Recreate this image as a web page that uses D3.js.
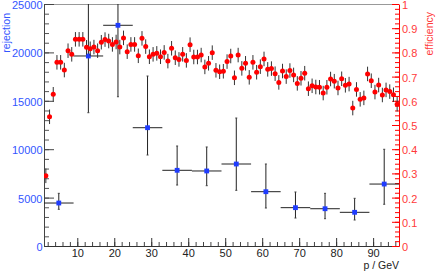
<!DOCTYPE html>
<html>
<head>
<meta charset="utf-8">
<script src="https://cdn.jsdelivr.net/npm/d3@7"></script>
<style>
  body { margin: 0; background: #fff; }
  svg { display: block; font-family: "Liberation Sans", Arial, sans-serif; }
</style>
</head>
<body>
<div id="container"></div>
<script>
/* DATA */
// efficiency, 1 GeV bins from 1 to 97
const effP = d3.range(1.5, 97, 1);
const effValues = [
  0.290, 0.534, 0.627, 0.759, 0.759, 0.727, 0.807, 0.792, 0.854, 0.854,
  0.854, 0.821, 0.815, 0.822, 0.807, 0.842, 0.853, 0.847, 0.833, 0.843,
  0.822, 0.860, 0.803, 0.833, 0.833, 0.786, 0.858, 0.824, 0.782, 0.792,
  0.796, 0.782, 0.800, 0.764, 0.817, 0.778, 0.771, 0.792, 0.767, 0.832,
  0.781, 0.781, 0.789, 0.740, 0.755, 0.799, 0.726, 0.720, 0.722, 0.762,
  0.785, 0.695, 0.789, 0.734, 0.755, 0.697, 0.759, 0.718, 0.741, 0.773,
  0.730, 0.733, 0.712, 0.676, 0.723, 0.700, 0.725, 0.707, 0.672, 0.693,
  0.714, 0.650, 0.662, 0.657, 0.656, 0.632, 0.656, 0.690, 0.681, 0.653,
  0.691, 0.664, 0.669, 0.570, 0.647, 0.606, 0.612, 0.711, 0.683, 0.636,
  0.665, 0.624, 0.645, 0.638, 0.625, 0.586
];
const effErr = 0.03;

// rejection, 8 GeV bins
const rejP = [5, 13, 21, 29, 37, 45, 53, 61, 69, 77, 85, 93];
const rejHalfWidth = 4;
const rejValues = [4440, 19630, 22800, 12220, 7820, 7750, 8470, 5610, 3960, 3850, 3480, 6400];
const rejErrHigh = [1000, 5900, 7400, 5340, 2510, 2480, 4750, 2860, 1620, 1590, 1445, 3590];
const rejErrLow = [650, 5860, 7380, 2820, 1520, 1520, 2720, 1685, 1070, 1030, 795, 2090];

const xTicks = [10, 20, 30, 40, 50, 60, 70, 80, 90];

/* CONSTANTS */
const width = 436,
  height = 272,
  margin = { top: 4, bottom: 26, left: 44, right: 37 };

const blue = "#1f3cff",
  blueText = "#3355ff",
  red = "#ff0000",
  redText = "#ff3a3a";

const svg = d3.select("#container")
  .append("svg")
  .attr("width", width)
  .attr("height", height);

// scales
const xScale = d3.scaleLinear()
  .domain([1, 97])
  .range([margin.left, width - margin.right]);

const yLeft = d3.scaleLinear()
  .domain([0, 25000])
  .range([height - margin.bottom, margin.top]);

const yRight = d3.scaleLinear()
  .domain([0, 1])
  .range([height - margin.bottom, margin.top]);

svg.append("clipPath").attr("id", "frame")
  .append("rect")
  .attr("x", margin.left)
  .attr("y", margin.top)
  .attr("width", width - margin.left - margin.right)
  .attr("height", height - margin.top - margin.bottom);

// top frame line
svg.append("line")
  .attr("x1", margin.left).attr("x2", width - margin.right)
  .attr("y1", margin.top + 0.5).attr("y2", margin.top + 0.5)
  .attr("stroke", "#999");

/* AXES */
// left (rejection): ticks point inward, labels outside
const leftMinor = svg.append("g")
  .attr("transform", `translate(${margin.left},0)`)
  .attr("color", "#555")
  .call(d3.axisLeft(yLeft).tickValues(d3.range(0, 25001, 1000)).tickSize(-5).tickSizeOuter(0).tickFormat(""));
leftMinor.select(".domain").remove();

const leftAxis = svg.append("g")
  .attr("transform", `translate(${margin.left},0)`)
  .attr("color", "#444")
  .call(d3.axisLeft(yLeft).tickValues(d3.range(0, 25001, 5000)).tickSize(-10).tickSizeOuter(0).tickPadding(1.5).tickFormat(d3.format("d")));
leftAxis.selectAll("text")
  .attr("fill", blueText)
  .attr("dy", "0.4em")
  .style("font-size", "11px")
  .style("font-family", "Liberation Sans, Arial, sans-serif");

// bottom (momentum)
const bottomMinor = svg.append("g")
  .attr("transform", `translate(0,${height - margin.bottom})`)
  .attr("color", "#444")
  .call(d3.axisBottom(xScale).tickValues(d3.range(2, 97, 2)).tickSize(-4).tickSizeOuter(0).tickFormat(""));
bottomMinor.select(".domain").remove();

const bottomAxis = svg.append("g")
  .attr("transform", `translate(0,${height - margin.bottom})`)
  .attr("color", "#333")
  .call(d3.axisBottom(xScale).tickValues(xTicks).tickSize(-8).tickSizeOuter(0).tickPadding(3.5));
bottomAxis.selectAll("text")
  .attr("fill", "#222")
  .style("font-size", "11px")
  .style("font-family", "Liberation Sans, Arial, sans-serif");

// right (efficiency)
const rightMinor = svg.append("g")
  .attr("transform", `translate(${width - margin.right},0)`)
  .attr("color", red)
  .call(d3.axisRight(yRight).tickValues(d3.range(0, 51).map(i => i / 50)).tickSize(-4).tickSizeOuter(0).tickFormat(""));
rightMinor.select(".domain").remove();

const rightAxis = svg.append("g")
  .attr("transform", `translate(${width - margin.right},0)`)
  .attr("color", red)
  .call(d3.axisRight(yRight).ticks(10).tickSize(-7).tickSizeOuter(0).tickPadding(3).tickFormat(d3.format("~g")));
rightAxis.selectAll("text")
  .attr("fill", redText)
  .attr("dy", "0.4em")
  .style("font-size", "11px")
  .style("font-family", "Liberation Sans, Arial, sans-serif");

// axis titles
svg.append("text")
  .attr("transform", `translate(10,13) rotate(-90)`)
  .attr("text-anchor", "end")
  .attr("fill", blueText)
  .style("font-size", "10.5px")
  .text("rejection");

svg.append("text")
  .attr("transform", `translate(433,12) rotate(-90)`)
  .attr("text-anchor", "end")
  .attr("fill", redText)
  .style("font-size", "10.5px")
  .text("efficiency");

svg.append("text")
  .attr("x", width - margin.right)
  .attr("y", 269)
  .attr("text-anchor", "end")
  .attr("fill", "#222")
  .style("font-size", "10.5px")
  .text("p / GeV");

/* MARKS */
const plot = svg.append("g").attr("clip-path", "url(#frame)");

// rejection
const rejData = rejP.map((p, i) => ({
  p: p, v: rejValues[i], hi: rejValues[i] + rejErrHigh[i], lo: rejValues[i] - rejErrLow[i]
}));

const rej = plot.append("g");
rej.selectAll(".hbar")
  .data(rejData)
  .join("line")
  .attr("x1", d => xScale(d.p - rejHalfWidth))
  .attr("x2", d => xScale(d.p + rejHalfWidth))
  .attr("y1", d => yLeft(d.v))
  .attr("y2", d => yLeft(d.v))
  .attr("stroke", "#222");

rej.selectAll(".vbar")
  .data(rejData)
  .join("line")
  .attr("x1", d => xScale(d.p))
  .attr("x2", d => xScale(d.p))
  .attr("y1", d => yLeft(d.hi))
  .attr("y2", d => yLeft(d.lo))
  .attr("stroke", "#222");

// small end caps
rej.selectAll(".cap")
  .data(rejData.flatMap(d => [d.hi, d.lo].map(y => ({ p: d.p, y: y }))))
  .join("line")
  .attr("x1", d => xScale(d.p) - 1)
  .attr("x2", d => xScale(d.p) + 1)
  .attr("y1", d => yLeft(d.y))
  .attr("y2", d => yLeft(d.y))
  .attr("stroke", "#444");

rej.selectAll("rect")
  .data(rejData)
  .join("rect")
  .attr("x", d => xScale(d.p) - 2.4)
  .attr("y", d => yLeft(d.v) - 2.4)
  .attr("width", 4.8)
  .attr("height", 4.8)
  .attr("fill", blue);

// efficiency
const effData = effP.map((p, i) => ({ p: p, v: effValues[i] }));

const eff = plot.append("g");
eff.selectAll("line")
  .data(effData)
  .join("line")
  .attr("x1", d => xScale(d.p))
  .attr("x2", d => xScale(d.p))
  .attr("y1", d => yRight(d.v + effErr))
  .attr("y2", d => yRight(d.v - effErr))
  .attr("stroke", "#333");

eff.selectAll("circle")
  .data(effData)
  .join("circle")
  .attr("cx", d => xScale(d.p))
  .attr("cy", d => yRight(d.v))
  .attr("r", 2.5)
  .attr("fill", red);
</script>
</body>
</html>
